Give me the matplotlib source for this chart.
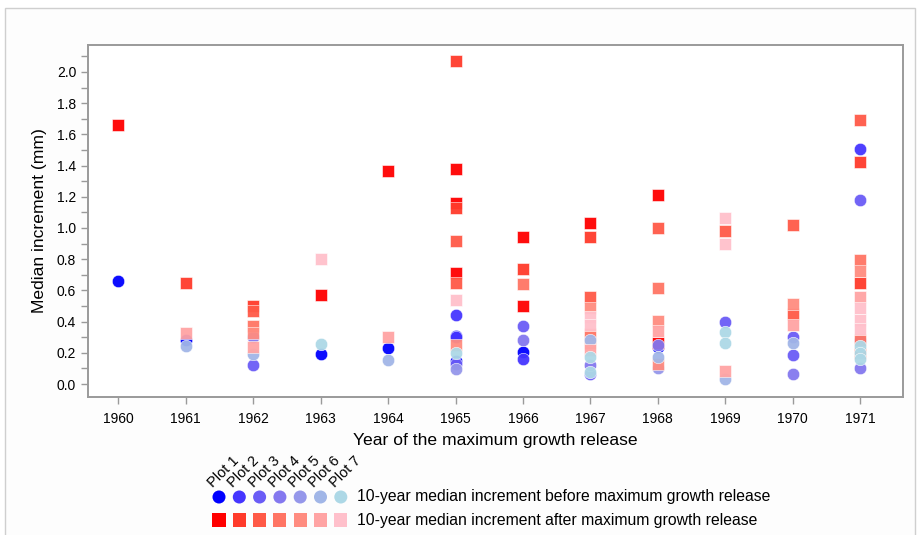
"""Median ring-width increment before/after the maximum growth release, by plot."""
import matplotlib
matplotlib.use('Agg')
import matplotlib.pyplot as plt
import matplotlib.patches as mpatches
from matplotlib.ticker import MultipleLocator
import numpy as np

plt.rcParams['font.family'] = ['Liberation Sans', 'DejaVu Sans']

# ── Data ──────────────────────────────────────────────────────
plots = ['Plot 1', 'Plot 2', 'Plot 3', 'Plot 4', 'Plot 5', 'Plot 6', 'Plot 7']
years = list(range(1960, 1972))

# 10-year median increment before the release (circles)
before_year = [1960, 1961, 1961, 1962, 1962, 1962, 1963, 1963, 1964, 1964,
               1965, 1965, 1965, 1965, 1965, 1965, 1965,
               1966, 1966, 1966, 1966,
               1967, 1967, 1967, 1967, 1967,
               1968, 1968, 1968, 1968,
               1969, 1969, 1969, 1969,
               1970, 1970, 1970, 1970,
               1971, 1971, 1971, 1971, 1971, 1971, 1971]
before_val = [0.66, 0.28, 0.245, 0.30, 0.19, 0.12, 0.19, 0.255, 0.23, 0.155,
              0.445, 0.31, 0.30, 0.20, 0.145, 0.13, 0.095,
              0.37, 0.285, 0.205, 0.16,
              0.28, 0.12, 0.175, 0.08, 0.065,
              0.24, 0.25, 0.17, 0.10,
              0.395, 0.335, 0.265, 0.035,
              0.30, 0.26, 0.185, 0.065,
              1.505, 1.18, 0.28, 0.245, 0.20, 0.16, 0.10]
before_plot = [1, 1, 6, 4, 6, 3, 1, 7, 1, 6,
               2, 1, 2, 7, 1, 3, 5,
               3, 4, 1, 2,
               6, 4, 7, 7, 3,
               1, 4, 6, 5,
               3, 7, 7, 6,
               3, 6, 3, 4,
               2, 3, 4, 7, 7, 7, 4]

# 10-year median increment after the release (squares)
after_year = [1960, 1961, 1961, 1962, 1962, 1962, 1962, 1962, 1963, 1963, 1964, 1964,
              1965, 1965, 1965, 1965, 1965, 1965, 1965, 1965, 1965,
              1966, 1966, 1966, 1966,
              1967, 1967, 1967, 1967, 1967, 1967, 1967, 1967, 1967,
              1968, 1968, 1968, 1968, 1968, 1968, 1968,
              1969, 1969, 1969, 1969,
              1970, 1970, 1970, 1970,
              1971, 1971, 1971, 1971, 1971, 1971, 1971, 1971, 1971, 1971, 1971]
after_val = [1.66, 0.645, 0.33, 0.50, 0.47, 0.37, 0.33, 0.24, 0.57, 0.80, 1.365, 0.30,
             2.07, 1.375, 1.16, 1.125, 0.915, 0.71, 0.645, 0.54, 0.25,
             0.94, 0.74, 0.64, 0.50,
             1.03, 0.94, 0.555, 0.49, 0.43, 0.38, 0.32, 0.26, 0.22,
             1.21, 1.00, 0.615, 0.405, 0.34, 0.26, 0.13,
             1.065, 0.98, 0.90, 0.085,
             1.02, 0.51, 0.45, 0.38,
             1.695, 1.42, 0.795, 0.725, 0.645, 0.555, 0.485, 0.41, 0.355, 0.28, 0.20]
after_plot = [1, 2, 6, 2, 3, 4, 5, 6, 1, 7, 1, 6,
              2, 1, 1, 2, 3, 1, 3, 7, 5,
              1, 2, 4, 1,
              1, 2, 3, 5, 7, 7, 4, 5, 6,
              1, 3, 4, 5, 6, 1, 5,
              7, 3, 7, 6,
              3, 5, 3, 6,
              3, 2, 4, 5, 2, 6, 7, 7, 7, 4, 3]

BLUES = ['#0000ff', '#4535ff', '#6a5cf6', '#8478ef', '#9597ea', '#a1b6e7', '#add8e6']
REDS = ['#ff0000', '#ff3b2b', '#ff5a47', '#ff7564', '#ff8c80', '#ffa4a4', '#ffc0cb']
GRAY = '#9a9a9a'
MS = 80

fig = plt.figure(figsize=(9.17, 5.35), dpi=100, facecolor='white')

# light outer frame
fig.patches.append(mpatches.Rectangle((5 / 917, -0.05), 910 / 917, 1.05 - 8 / 535,
                                      transform=fig.transFigure, facecolor='#fdfdfd',
                                      edgecolor='#cfcfcf', lw=1.0, zorder=-5))

ax = fig.add_axes([0.096, 0.258, 0.889, 0.658])
ax.set_facecolor('white')

by = np.array(before_year); bv = np.array(before_val); bp = np.array(before_plot)
ay = np.array(after_year); av = np.array(after_val); ap = np.array(after_plot)
for k in range(1, 8):
    z = 2 + 2 * k
    m = bp == k
    ax.scatter(by[m], bv[m], s=MS, marker='o', color=BLUES[k - 1], edgecolors='white',
               linewidths=0.4, alpha=0.95, zorder=z)
    m = ap == k
    ax.scatter(ay[m], av[m], s=MS, marker='s', color=REDS[k - 1], edgecolors='white',
               linewidths=0.4, alpha=0.95, zorder=z + 1)

ax.set_xlim(1959.55, 1971.64)
ax.set_ylim(-0.083, 2.173)
ax.set_xticks(years)
ax.yaxis.set_major_locator(MultipleLocator(0.2))
ax.yaxis.set_minor_locator(MultipleLocator(0.1))
ax.yaxis.set_major_formatter(plt.FuncFormatter(lambda v, _: f'{v:.1f}'))
ax.tick_params(axis='both', which='both', direction='out', length=5, color=GRAY,
               width=1, labelsize=10, labelcolor='black')
ax.tick_params(axis='x', pad=6)
for sp in ax.spines.values():
    sp.set_color(GRAY)
    sp.set_linewidth(1.4)
ax.set_xlabel('Year of the maximum growth release', fontsize=12.6, labelpad=5)
ax.set_ylabel('Median increment (mm)', fontsize=12.6, labelpad=7)

# legend block under the axes, laid out in pixel coordinates
lg = fig.add_axes([0, 0, 1, 1], zorder=5)
lg.set_xlim(0, 917)
lg.set_ylim(535, 0)
lg.axis('off')
lx = 219 + 20.3 * np.arange(len(plots))
lg.scatter(lx, np.full(len(plots), 497), s=MS + 8, marker='o', color=BLUES, edgecolors='none')
lg.scatter(lx, np.full(len(plots), 520), s=MS + 8, marker='s', color=REDS, edgecolors='none')
for x, name in zip(lx, plots):
    lg.text(x - 6, 488, name, rotation=45, rotation_mode='anchor', ha='left',
            va='baseline', fontsize=10.5)
lg.text(357, 497, '10-year median increment before maximum growth release',
        fontsize=11.3, va='center', ha='left')
lg.text(357, 520, '10-year median increment after maximum growth release',
        fontsize=11.3, va='center', ha='left')

fig.savefig('out.png', dpi=100, facecolor='white')
